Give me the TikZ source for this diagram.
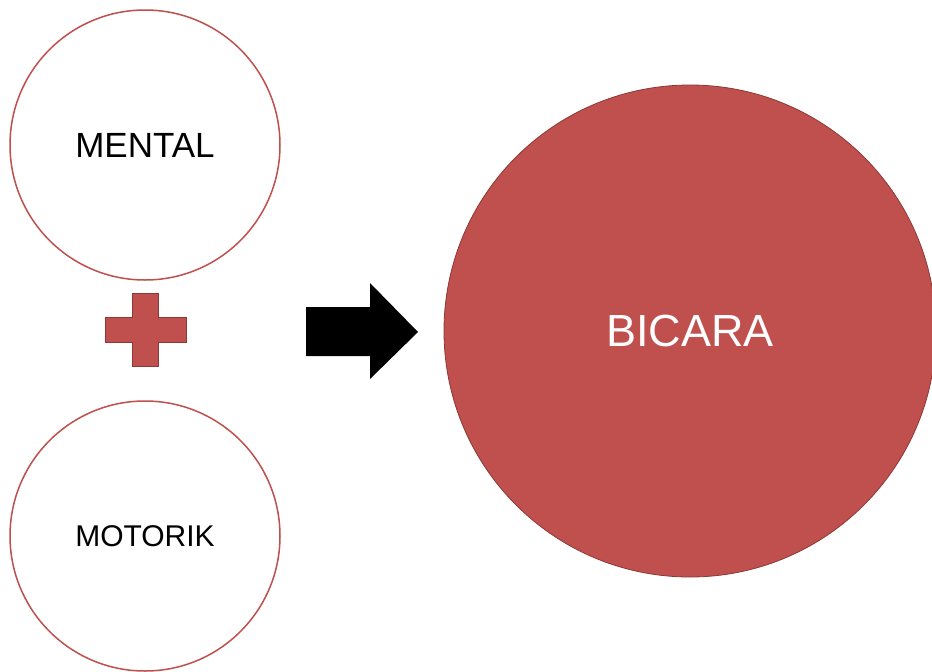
\documentclass[tikz,border=0pt]{standalone}
\usepackage{fontspec}
\setmainfont{Liberation Sans}
\definecolor{accred}{HTML}{C0504D}
\definecolor{darkred}{HTML}{8C3836}
\begin{document}
\begin{tikzpicture}[x=1pt,y=-1pt,
  ringnode/.style={circle, draw=accred, line width=1.5pt, fill=white, minimum size=270pt, inner sep=0pt},
  bignode/.style={circle, draw=darkred, line width=0.8pt, fill=accred, minimum size=492pt, inner sep=0pt, text=white, font=\fontsize{45}{50}\selectfont}]
\useasboundingbox (0,0) rectangle (932,672);
\fill[white] (0,0) rectangle (932,672);
\node[ringnode, font=\fontsize{35}{40}\selectfont] (mental) at (145,145) {MENTAL};
\node[ringnode, font=\fontsize{30}{35}\selectfont] (motorik) at (145,536) {MOTORIK};
\node[bignode] (bicara) at (690,331) {BICARA};
% plus sign
\draw[fill=accred, draw=darkred, line width=1pt]
  (132,293) -- (158,293) -- (158,317) -- (186,317) -- (186,342) -- (158,342)
  -- (158,366) -- (132,366) -- (132,342) -- (105,342) -- (105,317) -- (132,317) -- cycle;
% arrow
\fill[black]
  (306,307) -- (370,307) -- (370,283) -- (418,332) -- (370,379) -- (370,356) -- (306,356) -- cycle;
\end{tikzpicture}
\end{document}
